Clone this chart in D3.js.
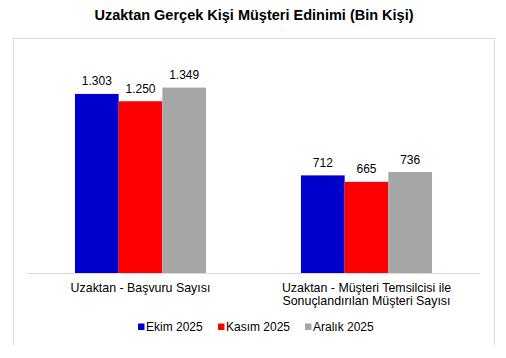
<!DOCTYPE html>
<html>
<head>
<meta charset="utf-8">
<script src="https://cdn.jsdelivr.net/npm/d3@7"></script>
<style>
  html, body { margin: 0; padding: 0; background: #fff; }
  svg { display: block; font-family: "Liberation Sans", Arial, sans-serif; }
</style>
</head>
<body>
<svg id="chart" width="506" height="358"></svg>
<script>
const title = "Uzaktan Gerçek Kişi Müşteri Edinimi (Bin Kişi)";
const categories = [
  ["Uzaktan - Başvuru Sayısı"],
  ["Uzaktan - Müşteri Temsilcisi ile", "Sonuçlandırılan Müşteri Sayısı"]
];
const seriesNames = ["Ekim 2025", "Kasım 2025", "Aralık 2025"];
const ekim = [1303, 712];
const kasim = [1250, 665];
const aralik = [1349, 736];
const colors = ["#0000CC", "#FF0000", "#A6A6A6"];
const seriesValues = [ekim, kasim, aralik];

const svg = d3.select("#chart");
const fmt = v => d3.format(",")(v).replace(/,/g, ".");

// frame (top, left, right)
svg.append("path")
  .attr("d", "M13.5,345 V38.5 H494.5 V345")
  .attr("fill", "none").attr("stroke", "#d9d9d9").attr("stroke-width", 1);

svg.append("text")
  .attr("x", 254).attr("y", 19.5)
  .attr("text-anchor", "middle")
  .attr("font-size", 14.5).attr("font-weight", "bold").attr("fill", "#000")
  .text(title);

const x0 = d3.scaleBand().domain(d3.range(categories.length))
  .range([27.5, 479.5]).paddingInner(0.42).paddingOuter(0.21);
const x1 = d3.scaleBand().domain(d3.range(seriesNames.length))
  .range([0, x0.bandwidth()]).padding(0);
const y = d3.scaleLinear().domain([0, 1600]).range([273.5, 53]);

// bars
seriesValues.forEach((vals, s) => {
  svg.append("g").selectAll("rect").data(vals).join("rect")
    .attr("x", (d, i) => x0(i) + x1(s))
    .attr("y", d => y(d))
    .attr("width", x1.bandwidth())
    .attr("height", d => y(0) - y(d))
    .attr("fill", colors[s]);
  svg.append("g").selectAll("text").data(vals).join("text")
    .attr("x", (d, i) => x0(i) + x1(s) + x1.bandwidth() / 2)
    .attr("y", d => y(d) - 8.5)
    .attr("text-anchor", "middle").attr("font-size", 12).attr("fill", "#000")
    .text(d => fmt(d));
});

// axis line
const xAxis = d3.axisBottom(x0).tickSize(0).tickFormat("");
const ax = svg.append("g").attr("transform", `translate(0,${y(0)})`).call(xAxis);
ax.select(".domain").attr("stroke", "#d9d9d9").attr("d", "M27.5,0H479.5");

// category labels
categories.forEach((lines, i) => {
  const t = svg.append("text")
    .attr("x", x0(i) + x0.bandwidth() / 2).attr("y", 291.5)
    .attr("text-anchor", "middle").attr("font-size", 12.4).attr("fill", "#000");
  lines.forEach((l, j) => {
    t.append("tspan").attr("x", x0(i) + x0.bandwidth() / 2)
      .attr("dy", j === 0 ? 0 : 13.5).text(l);
  });
});

// legend
const legendX = [138, 218, 305];
const lg = svg.append("g");
seriesNames.forEach((n, i) => {
  lg.append("rect").attr("x", legendX[i]).attr("y", 323.5)
    .attr("width", 6.5).attr("height", 6.5).attr("fill", colors[i]);
  lg.append("text").attr("x", legendX[i] + 8).attr("y", 331)
    .attr("font-size", 12).attr("fill", "#000").text(n);
});
</script>
</body>
</html>
